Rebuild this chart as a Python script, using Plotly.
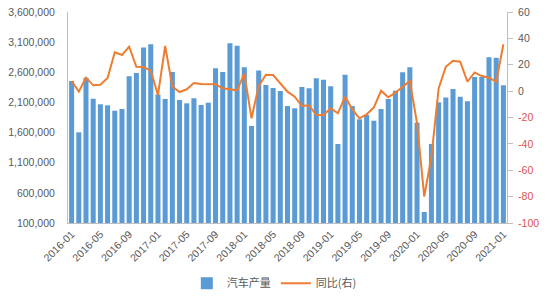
import plotly.graph_objects as go

months = [f"{y}-{m:02d}" for y in range(2016, 2021) for m in range(1, 13)] + ["2021-01"]

production = [
    2455000, 1604000, 2510000, 2162000, 2069000, 2052000, 1963000, 1991000, 2533000, 2588000, 3012000, 3064000,
    2230000, 2157000, 2605000, 2140000, 2085000, 2168000, 2057000, 2096000, 2666000, 2605000, 3080000, 3041000,
    2683000, 1709000, 2628000, 2389000, 2339000, 2290000, 2041000, 2002000, 2356000, 2334000, 2500000, 2477000,
    2367000, 1410000, 2560000, 2041000, 1820000, 1892000, 1797000, 1991000, 2157000, 2295000, 2600000, 2683000,
    1764000, 282000, 1410000, 2102000, 2180000, 2323000, 2196000, 2118000, 2522000, 2522000, 2848000, 2842000,
    2384000,
]

yoy = [
    7.7, -0.4, 10.2, 4.4, 4.9, 9.9, 29.4, 27.4, 33.7, 18.5, 18.3, 15.5,
    -3.0, 34.2, 3.5, -0.7, 1.4, 6.1, 5.4, 5.2, 5.2, 2.1, 1.4, 0.6,
    13.5, -20.6, 3.9, 12.4, 12.2, 5.9, -0.4, -4.2, -11.3, -10.8, -18.1, -18.1,
    -13.0, -16.8, -4.2, -13.8, -20.6, -17.6, -12.3, 0.3, -4.7, -1.2, 2.9, 7.7,
    -24.4, -80.0, -49.7, 2.1, 18.5, 23.0, 22.3, 7.1, 14.2, 11.4, 10.2, 7.1,
    35.5,
]

left_ticks = [100000, 600000, 1100000, 1600000, 2100000, 2600000, 3100000, 3600000]
right_ticks = [-100, -80, -60, -40, -20, 0, 20, 40, 60]
right_text = [
    (f'<span style="color:#D9534F">{v}</span>' if v < 0 else f'<span style="color:#595959">{v}</span>')
    for v in right_ticks
]
x_ticks = months[::4]

fig = go.Figure()
fig.add_trace(go.Bar(
    x=months, y=production, name="汽车产量",
    marker=dict(color="#5B9BD5", line=dict(width=0)),
    yaxis="y",
))
fig.add_trace(go.Scatter(
    x=months, y=yoy, name="同比(右)", mode="lines",
    line=dict(color="#ED7D31", width=2),
    yaxis="y2",
))

tickfont = dict(family="Liberation Sans, Arial, sans-serif", size=10.5, color="#595959")

fig.update_layout(
    width=550, height=300,
    margin=dict(l=68, r=43, t=12, b=77, autoexpand=False),
    paper_bgcolor="white", plot_bgcolor="white",
    bargap=0.3,
    showlegend=True,
    legend=dict(
        orientation="h", x=0.47, xanchor="center", y=-0.285, yanchor="middle",
        font=dict(family="Noto Sans CJK SC", size=11, color="#595959"),
        itemwidth=30, traceorder="normal", tracegroupgap=0,
    ),
    xaxis=dict(
        type="category", range=[-0.5, len(months) - 0.5],
        tickmode="array", tickvals=x_ticks, ticktext=x_ticks,
        tickangle=-45, tickfont=tickfont,
        showgrid=False, showline=True, linecolor="#BFBFBF", linewidth=1,
        ticks="", automargin=False,
    ),
    yaxis=dict(
        range=[100000, 3600000], tickmode="array", tickvals=left_ticks,
        ticktext=[f"{v:,}" for v in left_ticks],
        tickfont=tickfont, showgrid=False, zeroline=False,
        showline=True, linecolor="#BFBFBF", linewidth=1,
        ticks="", ticklabelstandoff=10, automargin=False,
    ),
    yaxis2=dict(
        overlaying="y", side="right",
        range=[-100, 60], tickmode="array", tickvals=right_ticks, ticktext=right_text,
        tickfont=tickfont, showgrid=False, zeroline=False,
        showline=True, linecolor="#BFBFBF", linewidth=1,
        ticks="outside", ticklen=5, tickcolor="#BFBFBF",
        ticklabelstandoff=3, automargin=False,
    ),
)

fig.write_html("out.html")
